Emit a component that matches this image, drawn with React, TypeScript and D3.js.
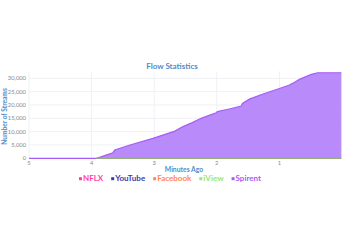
import { useRef, useEffect } from 'react'
import * as d3 from 'd3'

// Spirent stream count (minutes ago -> streams)
const minutesAgo = [5, 3.92, 3.78, 3.66, 3.63, 3.4, 3.02, 2.85, 2.67, 2.54, 2.4, 2.25, 2.1, 2.01, 1.99, 1.8, 1.61, 1.59, 1.48, 1.25, 1.0, 0.84, 0.79, 0.68, 0.49, 0.39, 0.01]
const spirent = [0, 0, 1100, 2100, 3100, 4900, 7500, 8800, 10200, 11900, 13300, 15000, 16300, 17100, 17500, 18500, 19600, 20600, 22200, 24200, 26200, 27500, 28100, 29600, 31500, 32100, 32100]
// other services report no streams
const zeroMinutes = [3.92, 0.01]
const zeroValues = [0, 0]

const xTicks = [5, 4, 3, 2, 1]
const yTicks = [0, 5000, 10000, 15000, 20000, 25000, 30000]
const legendNames = ['NFLX', 'YouTube', 'Facebook', 'iView', 'Spirent']
const legendColors = ['#ff3fa4', '#3a3aa8', '#ff8556', '#9be86a', '#a95cf5']

const W = 349
const H = 247
const L = 29
const R = 342
const T = 71.4
const B = 158.3
const FONT = 'Lato, "Open Sans", sans-serif'

export default function App() {
  const legendRef = useRef<SVGGElement>(null)

  const x = d3.scaleLinear().domain([5, 0]).range([L, R])
  const y = d3.scaleLinear().domain([0, 32600]).range([B, T])

  const pts = minutesAgo.map((m, i) => [m, spirent[i]] as [number, number])
  const area = d3.area<[number, number]>().x(d => x(d[0])).y0(y(0)).y1(d => y(d[1]))
  const line = d3.line<[number, number]>().x(d => x(d[0])).y(d => y(d[1]))
  const zeroPts = zeroMinutes.map((m, i) => [m, zeroValues[i]] as [number, number])

  useEffect(() => {
    if (!legendRef.current) return
    const g = d3.select(legendRef.current)
    g.selectAll('*').remove()
    let cx = 0
    legendNames.forEach((name, i) => {
      const item = g.append('g').attr('transform', `translate(${cx},0)`)
      item.append('rect').attr('x', 0).attr('y', -3.8).attr('width', 3).attr('height', 3).attr('fill', legendColors[i])
      const t = item.append('text').attr('x', 4).attr('y', 0)
        .attr('font-size', 8).attr('font-weight', 700).attr('font-family', FONT)
        .attr('fill', legendColors[i]).text(name)
      const w = (t.node() as SVGTextElement).getComputedTextLength()
      cx += 4 + w + 8
    })
    const total = cx - 8
    g.attr('transform', `translate(${170 - total / 2},181)`)
  }, [])

  return (
    <svg width={W} height={H} style={{ position: 'absolute', left: 0, top: 0, background: '#fff' }}>
      {/* grid */}
      {yTicks.map(t => (
        <line key={'gy' + t} x1={L} x2={R} y1={y(t)} y2={y(t)} stroke="#eef0f4" strokeWidth={1} />
      ))}
      {xTicks.map(t => (
        <line key={'gx' + t} x1={x(t)} x2={x(t)} y1={T} y2={B} stroke="#eef0f4" strokeWidth={1} />
      ))}

      {/* Spirent area */}
      <path d={area(pts) ?? ''} fill="#b98af9" />
      <path d={line(pts) ?? ''} fill="none" stroke="#a95cf5" strokeWidth={1.2} />
      <path d={line(zeroPts) ?? ''} fill="none" stroke="#98ad7c" strokeWidth={1.5} />

      {/* y tick labels */}
      {yTicks.map(t => (
        <text key={'ty' + t} x={L - 3} y={y(t) + 2} textAnchor="end" fontSize={5.8} fill="#888" fontFamily={FONT}>
          {d3.format(',')(t)}
        </text>
      ))}
      {/* x tick labels */}
      {xTicks.map(t => (
        <text key={'tx' + t} x={x(t)} y={165} textAnchor="middle" fontSize={5.8} fill="#888" fontFamily={FONT}>
          {t}
        </text>
      ))}

      <text x={172} y={69} textAnchor="middle" fontSize={8} fontWeight={700} fill="#4f8dcb" fontFamily={FONT}>
        Flow Statistics
      </text>
      <text x={184} y={171.5} textAnchor="middle" fontSize={6.8} fontWeight={700} fill="#4f8dcb" fontFamily={FONT}>
        Minutes Ago
      </text>
      <text transform={`translate(7.3,116.5) rotate(-90)`} textAnchor="middle" fontSize={6.6} fontWeight={700} fill="#4f8dcb" fontFamily={FONT}>
        Number of Streams
      </text>

      <g ref={legendRef} />
    </svg>
  )
}
